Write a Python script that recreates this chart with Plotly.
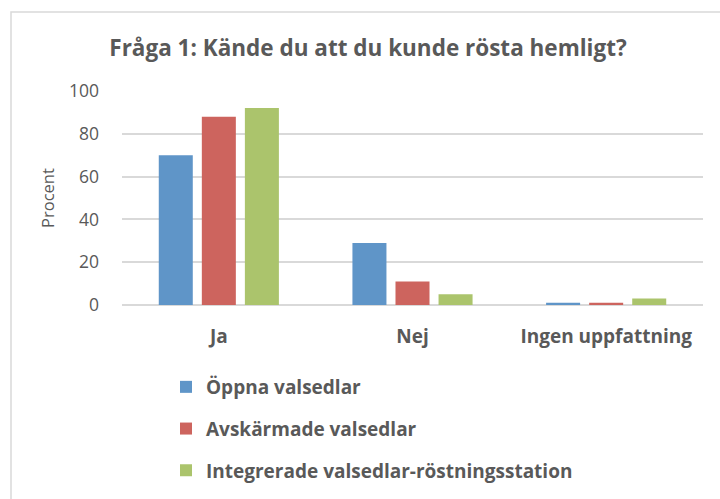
import plotly.graph_objects as go

categories = ["Ja", "Nej", "Ingen uppfattning"]
series_names = ["Öppna valsedlar", "Avskärmade valsedlar", "Integrerade valsedlar-röstningsstation"]
oppna = [70, 29, 1]
avskarmade = [88, 11, 1]
integrerade = [92, 5, 3]
colors = ["#5f95c8", "#cd645e", "#abc46c"]

W, H = 720, 499
L, R, T, B = 122, 17, 91, 194
pw, ph = W - L - R, H - T - B

def px2x(p):
    return (p - L) / pw

def py2y(p):
    return (H - B - p) / ph

fig = go.Figure()
for i, (name, vals) in enumerate(zip(series_names, [oppna, avskarmade, integrerade])):
    fig.add_trace(go.Bar(x=categories, y=vals, name=f"<b>{name}</b>", marker_color=colors[i],
                         marker_line_width=0, legendgroup=f"g{i}"))

text_color = "#595959"
fig.update_layout(
    width=W, height=H,
    margin=dict(l=L, r=R, t=T, b=B, autoexpand=False),
    paper_bgcolor="white", plot_bgcolor="white",
    font=dict(family="Open Sans", color=text_color),
    title=dict(text="<b>Fråga 1: Kände du att du kunde rösta hemligt?</b>",
               x=px2x(368), xref="paper", xanchor="center",
               y=1 - 48 / H, yref="container", yanchor="middle",
               font=dict(size=22.5, color=text_color)),
    barmode="group", bargap=0.333, bargroupgap=0.21,
    showlegend=True,
    legend=dict(orientation="v", x=px2x(166), xanchor="left", y=py2y(368), yanchor="top",
                font=dict(size=19, color=text_color), tracegroupgap=14,
                itemwidth=30, traceorder="grouped"),
    xaxis=dict(showgrid=False, showline=False, ticks="", ticklabelstandoff=18,
               tickfont=dict(size=19, color=text_color), automargin=False,
               tickvals=categories, ticktext=[f"<b>{c}</b>" for c in categories]),
    yaxis=dict(range=[0, 100], dtick=20, showgrid=True, gridcolor="#d9d9d9", gridwidth=1.5,
               zeroline=True, zerolinecolor="#d9d9d9", zerolinewidth=1.5,
               showline=False, ticks="", ticklabelstandoff=22, automargin=False,
               tickfont=dict(size=17.5, color=text_color),
               title=dict(text="Procent", font=dict(size=16.5, color=text_color), standoff=10)),
)

fig.add_shape(type="rect", xref="paper", yref="paper",
              x0=px2x(11), x1=px2x(740), y0=py2y(520), y1=py2y(12),
              line=dict(color="#d9d9d9", width=1.5), fillcolor="rgba(0,0,0,0)", layer="below")

fig.write_html("out.html", config={"displayModeBar": False},
               post_script="document.body.style.margin='0';")
